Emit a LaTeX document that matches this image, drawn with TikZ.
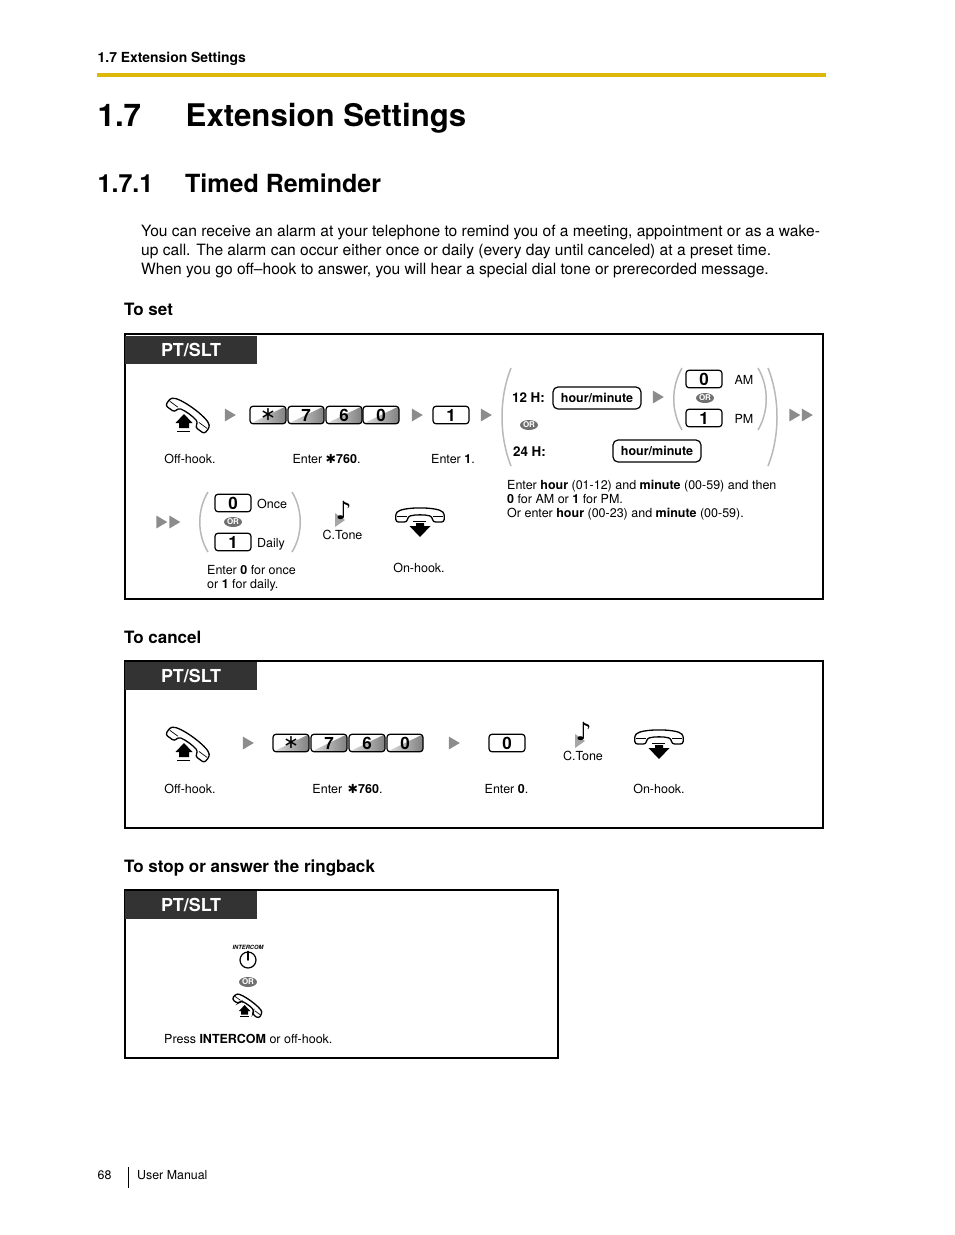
\documentclass[tikz,border=0pt]{standalone}
\usepackage{fontspec}
\setmainfont{TeX Gyre Heros}
\newfontfamily\symbfont{DejaVu Sans}
\usetikzlibrary{shapes.geometric}
\definecolor{RuleGold}{HTML}{DDB80A}
\definecolor{HeadDark}{HTML}{333333}
\definecolor{ParenGray}{HTML}{B8B8B8}
\definecolor{TriGray}{HTML}{8C8C8C}
\definecolor{OrGray}{HTML}{707070}
\newcommand{\fsize}[1]{\fontsize{#1}{#1}\selectfont}
\newcommand{\staricon}{{\symbfont\char"2731}}
\newcommand{\keystar}{\symbfont\mdseries\fsize{19}\raisebox{-1pt}{\char"2217}}
\newcommand{\handsetbody}{%
  \draw[line width=1.3pt, fill=white, rounded corners=2.5pt] (-24,7) -- (-24.5,-1) .. controls (-18,-8.5) and (18,-8.5) .. (24.5,-1) -- (24,7) -- (13,7) -- (12,1.5) .. controls (5,-0.5) and (-5,-0.5) .. (-12,1.5) -- (-13,7) -- cycle;
  \draw[line width=0.7pt] (-23,1) -- (-13,1);
  \draw[line width=0.7pt] (13,1) -- (23,1);
}

\begin{document}
\begin{tikzpicture}[
  x=1pt, y=-1pt,
  lbl/.style={font=\fsize{12.5}, inner sep=0pt, anchor=base},
  lblw/.style={font=\fsize{12.5}, inner sep=0pt, anchor=base west, align=left},
  subhead/.style={font=\fsize{17}\bfseries, inner sep=0pt, anchor=base west},
  frame/.style={draw=black, line width=1.3pt},
  header/.style={fill=HeadDark, text=white, font=\fsize{17.9}\bfseries, inner sep=0pt, minimum width=132pt, minimum height=28pt},
  keybox/.style={draw=black, line width=1.2pt, rounded corners=3pt, fill=white, minimum width=36pt, minimum height=17.5pt, inner sep=0pt, font=\fsize{17}\bfseries},
  dialkey/.style={keybox, path picture={\shade[left color=black!12, right color=black!50] (path picture bounding box.south west) -- (path picture bounding box.north east) -- (path picture bounding box.south east) -- cycle;}},
  hourbox/.style={keybox, rounded corners=5pt, minimum width=88pt, minimum height=22pt, font=\fsize{12.5}\bfseries},
  tri/.style={isosceles triangle, isosceles triangle stretches, fill=TriGray, inner sep=0pt, minimum width=13pt, minimum height=11pt},
  orbadge/.style={ellipse, fill=OrGray, text=white, inner sep=0pt, minimum width=18pt, minimum height=10pt, font=\fsize{8}\bfseries},
  paren/.style={draw=ParenGray, line width=1.5pt},
  pics/offhook/.style={code={
    \begin{scope}[rotate=-36]
      \handsetbody
    \end{scope}
    \fill (-5,0) -- (3.5,9) -- (0,9) -- (0,14) -- (-10,14) -- (-10,9) -- (-13.5,9) -- cycle;
    \draw[line width=1pt] (-12,17) -- (1,17);
  }},
  pics/onhook/.style={code={
    \handsetbody
    \draw[line width=1pt] (-7,6) -- (6,6);
    \fill (-4,8) -- (4,8) -- (4,11) -- (10.5,11) -- (0,22) -- (-10.5,11) -- (-4,11) -- cycle;
  }},
  pics/ctone/.style={code={
    \fill[black!35] (-7,14) -- (-7,0) -- (3,7) -- cycle;
    \node[font=\symbfont\bfseries\fsize{25}, inner sep=0pt] (note) at (1.5,-3) {\char"266A};
  }}
]
\useasboundingbox (0,0) rectangle (954,1235);

% page head
\node[font=\fsize{13.9}\bfseries, inner sep=0pt, anchor=base west] (runhead) at (97.5,62) {1.7 Extension Settings};
\fill[RuleGold] (97,73) rectangle (826,77);
\node[font=\fsize{31.2}\bfseries, inner sep=0pt, anchor=base west] (title) at (97.5,126.5) {1.7};
\node[font=\fsize{31.2}\bfseries, inner sep=0pt, anchor=base west] (titletext) at (185.5,126.5) {Extension Settings};
\node[font=\fsize{25}\bfseries, inner sep=0pt, anchor=base west] (sub) at (97.5,192.5) {1.7.1};
\node[font=\fsize{25}\bfseries, inner sep=0pt, anchor=base west] (subtext) at (185,192.5) {Timed Reminder};
\node[font=\fontsize{15.58}{18.8}\selectfont, inner sep=0pt, anchor=base west, align=left] (intro) at (141,274) {You can receive an alarm at your telephone to remind you of a meeting, appointment or as a wake-\\up call. The alarm can occur either once or daily (every day until canceled) at a preset time.\\When you go off--hook to answer, you will hear a special dial tone or prerecorded message.};

% to set
\node[subhead] (toset) at (124,315) {To set};
\draw[frame] (125,334) rectangle (823,599);
\node[header] (pt1) at (191,349.5) {PT/SLT};
\pic at (189,414) {offhook};
\node[tri] (t1) at (228.5,415) {};
\node[dialkey] (star1) at (268,415) {\keystar};
\node[dialkey] (seven1) at (306,415) {7};
\node[dialkey] (six1) at (344,415) {6};
\node[dialkey] (zero1) at (381,415) {0};
\node[tri] (t2) at (415.5,415) {};
\node[keybox] (one1) at (451,415) {1};
\node[tri] (t3) at (484.5,415) {};
\node[lbl] (off1) at (190,463) {Off-hook.};
\node[lbl] (enter1) at (326.5,463) {Enter \staricon\textbf{760}.};
\node[lbl] (enterone) at (453,463) {Enter \textbf{1}.};

\draw[paren] (511,368) .. controls (499,398) and (499,436) .. (511,466);
\draw[paren] (768,368) .. controls (780,398) and (780,436) .. (768,466);
\node[lbl, font=\fsize{13.4}\bfseries] (h12) at (528.5,402) {12 H:};
\node[hourbox] (hm1) at (597,398) {hour/minute};
\node[tri] (t4) at (656.5,397) {};
\draw[paren] (682,368) .. controls (671,387) and (671,411) .. (682,430);
\draw[paren] (758,368) .. controls (769,387) and (769,411) .. (758,430);
\node[keybox] (am) at (704,379) {0};
\node[orbadge] (oram) at (705,398) {OR};
\node[keybox] (pm) at (704,418) {1};
\node[lbl] (amt) at (744,384) {AM};
\node[lbl] (pmt) at (744,423) {PM};
\node[orbadge] (orh) at (529,425) {OR};
\node[lbl, font=\fsize{13.4}\bfseries] (h24) at (529.5,456) {24 H:};
\node[hourbox] (hm2) at (657,451) {hour/minute};
\node[tri] (t5) at (793,415) {};
\node[tri] (t6) at (805.5,415) {};
\node[lblw, font=\fontsize{12.5}{14}\selectfont] (hournote) at (507,517) {Enter \textbf{hour} (01-12) and \textbf{minute} (00-59) and then\\\textbf{0} for AM or \textbf{1} for PM.\\Or enter \textbf{hour} (00-23) and \textbf{minute} (00-59).};

\node[tri] (t7) at (160,522) {};
\node[tri] (t8) at (173,522) {};
\draw[paren] (208,492) .. controls (197,510) and (197,534) .. (208,552);
\draw[paren] (292,492) .. controls (303,510) and (303,534) .. (292,552);
\node[keybox] (once) at (233,503) {0};
\node[orbadge] (oronce) at (233,522) {OR};
\node[keybox] (daily) at (233,542) {1};
\node[lblw] (oncet) at (257,508) {Once};
\node[lblw] (dailyt) at (257,547) {Daily};
\pic at (342,513) {ctone};
\node[lbl] (ctone1) at (342.5,539) {C.Tone};
\pic at (420,515) {onhook};
\node[lbl] (on1) at (419,572) {On-hook.};
\node[lblw, font=\fontsize{12.5}{14}\selectfont] (oncenote) at (207,588) {Enter \textbf{0} for once\\or \textbf{1} for daily.};

% to cancel
\node[subhead] (tocancel) at (124,643) {To cancel};
\draw[frame] (125,661) rectangle (823,828);
\node[header] (pt2) at (191,675.5) {PT/SLT};
\pic at (189,743) {offhook};
\node[tri] (t9) at (246.5,743) {};
\node[dialkey] (star2) at (291,743) {\keystar};
\node[dialkey] (seven2) at (329,743) {7};
\node[dialkey] (six2) at (367,743) {6};
\node[dialkey] (zero2) at (405,743) {0};
\node[tri] (t10) at (452.5,743) {};
\node[keybox] (zero3) at (507,743) {0};
\pic at (582,734) {ctone};
\node[lbl] (ctone2) at (583,760) {C.Tone};
\pic at (659,737) {onhook};
\node[lbl] (off2) at (190,793) {Off-hook.};
\node[lbl] (enter2) at (347.5,793) {Enter \,\staricon\textbf{760}.};
\node[lbl] (enterzero) at (506.5,793) {Enter \textbf{0}.};
\node[lbl] (on2) at (659,793) {On-hook.};

% to stop
\node[subhead] (tostop) at (124,872) {To stop or answer the ringback};
\draw[frame] (125,890) rectangle (558,1058);
\node[header] (pt3) at (191,904.5) {PT/SLT};
\node[font=\fsize{5.8}\bfseries\itshape, inner sep=0pt] (intercom) at (248,947) {INTERCOM};
\node[circle, draw=black, line width=1.2pt, minimum size=16pt, inner sep=0pt] (btn) at (248,960) {};
\draw[line width=1.6pt, line cap=round] (btn.north) -- (btn.center);
\node[orbadge] (orstop) at (248,982) {OR};
\pic[scale=0.68] at (248,1005) {offhook};
\node[lblw] (press) at (164,1043) {Press \textbf{INTERCOM} or off-hook.};

% page foot
\node[font=\fsize{12.4}, inner sep=0pt, anchor=base west] (page) at (97.5,1179) {68};
\draw[line width=0.8pt] (128.5,1167) -- (128.5,1188);
\node[font=\fsize{12.4}, inner sep=0pt, anchor=base west] (manual) at (137,1179) {User Manual};
\end{tikzpicture}
\end{document}
